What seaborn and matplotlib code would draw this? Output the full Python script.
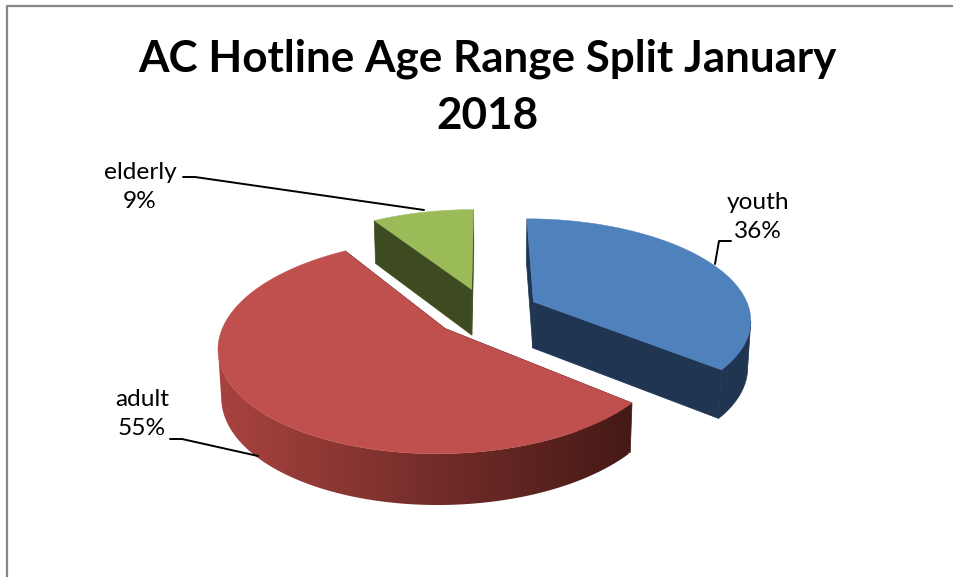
import numpy as np
import matplotlib
matplotlib.use('Agg')
import matplotlib.pyplot as plt
from matplotlib.patches import Polygon
import seaborn as sns

# values
categories = ['youth', 'adult', 'elderly']
shares = [36, 55, 9]
top_colors = ['#4F81BD', '#C0504D', '#9BBB59']
wall_colors = ['#1F3552', '#A8433F', '#3E4B20']
wall_dark = ['#1F3552', '#451916', '#3E4B20']
title = 'AC Hotline Age Range Split January\n2018'

# camera for the tilted pie, all in pixels of the figure
cx, cy = 486, 312
rx, ry = 217, 99.3
persp = 0.16
explode = 0.245
depth = 46.5
sink = 0.012

sns.set_theme(style='white')
plt.rcParams['font.family'] = ['Lato', 'DejaVu Sans']


def project(u, v, z=0.0):
    w = 1 + persp * v
    return cx + rx * u / w * (1 - sink * z), cy - ry * v / w + depth * z / (1 + persp / 2 * v)


def gradient_rows(c1, c2, n=256):
    a, b = np.array(matplotlib.colors.to_rgb(c1)), np.array(matplotlib.colors.to_rgb(c2))
    return (a + (b - a) * np.linspace(0, 1, n)[:, None])[None, :, :]


def draw_slice(ax, start, end, top, wall, dark):
    # angles run clockwise from 12 o'clock
    mid = (start + end) / 2
    ou, ov = explode * np.sin(mid), explode * np.cos(mid)
    t = np.linspace(start, end, 300)
    u = ou + np.sin(t)
    v = ov + np.cos(t)
    ax_, ay_ = project(ou, ov)
    bx, by = project(ou, ov, 1)
    tx, ty = project(u, v)
    lx, ly = project(u, v, 1)

    # flat radial walls
    ax.fill([ax_, tx[0], lx[0], bx], [ay_, ty[0], ly[0], by], color=dark, lw=0.5, zorder=1)
    ax.fill([ax_, tx[-1], lx[-1], bx], [ay_, ty[-1], ly[-1], by], color=dark, lw=0.5, zorder=1)

    # outer wall, only the run facing the viewer (x falling along the arc)
    front = np.r_[False, np.diff(tx) < 0]
    if front.sum() > 1:
        band_x = np.r_[tx[front], lx[front][::-1]]
        band_y = np.r_[ty[front], ly[front][::-1]]
        if wall == dark:
            ax.fill(band_x, band_y, color=wall, lw=0.5, zorder=2)
        else:
            band = Polygon(np.c_[band_x, band_y], closed=True, transform=ax.transData)
            img = ax.imshow(gradient_rows(wall, dark),
                            extent=[band_x.min(), band_x.max(), band_y.max() + 2, band_y.min() - 2],
                            aspect='auto', zorder=2, interpolation='bilinear')
            img.set_clip_path(band)

    ax.fill(np.r_[ax_, tx], np.r_[ay_, ty], color=top, lw=0.3, zorder=3)


fig = plt.figure(figsize=(9.54, 5.77), dpi=100)
ax = fig.add_axes([0, 0, 1, 1])
edges = np.r_[0, np.cumsum(shares)] / np.sum(shares) * 2 * np.pi
for i in [2, 0, 1]:
    draw_slice(ax, edges[i], edges[i + 1], top_colors[i], wall_colors[i], wall_dark[i])
ax.set_xlim(0, 954)
ax.set_ylim(577, 0)
ax.axis('off')

# chart frame, only the top and left show in the crop
ax.plot([7.5, 7.5, 954], [577, 6, 6], color='#868686', lw=1.6, zorder=0)

ax.text(487, 87.5, title, ha='center', va='center', fontsize=31.7, fontweight='bold',
        color='black', linespacing=1.52)

labels = {
    'youth': (758, 217),
    'adult': (142, 414),
    'elderly': (140, 187),
}
for name, share in zip(categories, shares):
    x, y = labels[name]
    ax.text(x, y, f'{name}\n{share}%', ha='center', va='center', fontsize=17.6, color='black', linespacing=1.42)

# leader lines
ax.plot([183, 195, 424], [177, 177, 210], color='black', lw=1.4, zorder=4)
ax.plot([170, 182, 258], [439, 439, 456], color='black', lw=1.4, zorder=4)
ax.plot([731, 719, 715], [241, 241, 264], color='black', lw=1.4, zorder=4)

fig.savefig('out.png', dpi=100)
